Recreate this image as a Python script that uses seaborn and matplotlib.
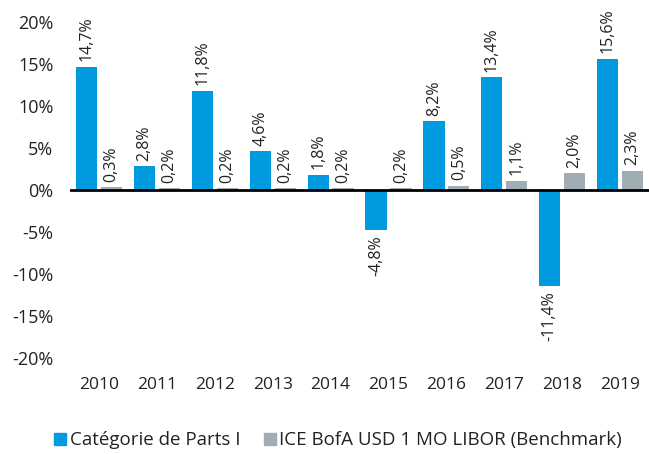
import matplotlib
matplotlib.use("Agg")
import matplotlib.pyplot as plt
import seaborn as sns
import pandas as pd
from matplotlib.lines import Line2D

years = ["2010", "2011", "2012", "2013", "2014", "2015", "2016", "2017", "2018", "2019"]
fund = [14.7, 2.8, 11.8, 4.6, 1.8, -4.8, 8.2, 13.4, -11.4, 15.6]
bench = [0.3, 0.2, 0.2, 0.2, 0.2, 0.2, 0.5, 1.1, 2.0, 2.3]
series = ["Catégorie de Parts I", "ICE BofA USD 1 MO LIBOR (Benchmark)"]
yticks = [-20, -15, -10, -5, 0, 5, 10, 15, 20]

df = pd.DataFrame({
    "year": years * 2,
    "value": fund + bench,
    "series": [series[0]] * len(years) + [series[1]] * len(years),
})

sns.set_style("white")
plt.rcParams["font.family"] = ["Open Sans", "DejaVu Sans"]

colors = ["#009ADE", "#A0ADB5"]
fig = plt.figure(figsize=(6.49, 4.54), dpi=100)
ax = fig.add_axes([0.108, 0.2115, 0.892, 0.74])

sns.barplot(data=df, x="year", y="value", hue="series", palette=colors,
            width=0.86, gap=0.15, saturation=1, linewidth=0, ax=ax, legend=False)

for cont in ax.containers:
    labels = [f"{v:.1f}%".replace(".", ",") for v in cont.datavalues]
    ax.bar_label(cont, labels=labels, rotation=90, padding=4, fontsize=11.5, color="#222222")

ax.set_ylim(-20, 20)
ax.set_xlim(-0.5, 9.5)
ax.set_yticks(yticks)
ax.set_yticklabels([f"{t}%" for t in yticks], fontsize=13, color="#222222")
ax.tick_params(axis="x", labelsize=12.5, colors="#222222", length=0, pad=14)
ax.tick_params(axis="y", length=0, pad=12)
ax.axhline(0, color="black", linewidth=2, zorder=5)
for s in ax.spines.values():
    s.set_visible(False)
ax.set_xlabel("")
ax.set_ylabel("")

handles = [Line2D([0], [0], marker="s", linestyle="", markersize=8,
                  markerfacecolor=c, markeredgecolor=c) for c in colors]
fig.legend(handles, series, loc="center", bbox_to_anchor=(0.52, 0.03), ncol=2,
           frameon=False, fontsize=13.5, handletextpad=0.1, columnspacing=1.2,
           handlelength=0.8, labelcolor="#222222")

fig.savefig("out.png", dpi=100)
